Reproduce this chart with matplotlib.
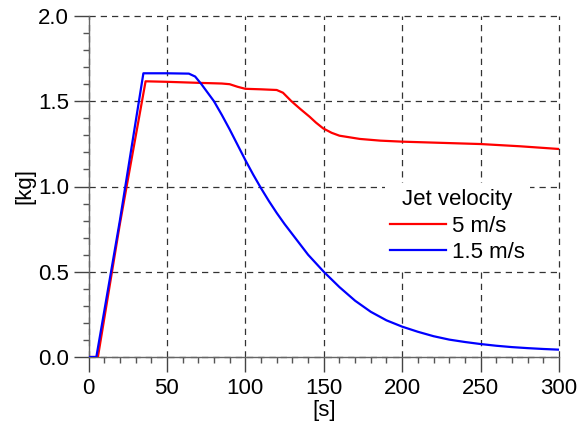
import numpy as np
import matplotlib.pyplot as plt
from matplotlib.ticker import MultipleLocator

plt.rcParams['font.family'] = ['Liberation Sans', 'DejaVu Sans']

# 5 m/s jet
t_fast = [0, 6, 20, 36.4, 50, 70, 85, 90, 95, 100, 110, 120, 124, 129.4, 135, 141, 145, 149.6, 155, 160, 173, 186, 200, 225, 250, 275, 300]
m_fast = [0, 0, 0.78, 1.617, 1.614, 1.608, 1.604, 1.600, 1.585, 1.573, 1.570, 1.566, 1.550, 1.50, 1.455, 1.409, 1.375, 1.341, 1.315, 1.298, 1.279, 1.269, 1.263, 1.256, 1.249, 1.236, 1.220]

# 1.5 m/s jet
t_slow = [0, 5, 20, 35, 50, 64, 68, 72, 76, 80, 85, 90, 95, 100, 105, 110, 115, 120, 125, 130, 140, 150, 160, 170, 180, 190, 200, 210, 220, 230, 240, 250, 260, 270, 280, 290, 300]
m_slow = [0, 0, 0.80, 1.664, 1.664, 1.662, 1.645, 1.60, 1.55, 1.50, 1.42, 1.335, 1.245, 1.155, 1.07, 0.99, 0.915, 0.845, 0.78, 0.72, 0.60, 0.50, 0.41, 0.33, 0.265, 0.215, 0.178, 0.148, 0.122, 0.102, 0.088, 0.076, 0.066, 0.058, 0.052, 0.047, 0.043]

fig = plt.figure(figsize=(5.86, 4.25), dpi=100)
ax = fig.add_axes([88.5 / 586, 1 - 357 / 425, (559 - 88.5) / 586, (357 - 16) / 425])

ax.plot(t_fast, m_fast, color='#ff0000', lw=1.6, label='5 m/s', zorder=3)
ax.plot(t_slow, m_slow, color='#0000ff', lw=1.6, label='1.5 m/s', zorder=3)

ax.set_xlim(0, 300)
ax.set_ylim(0, 2.0)
ax.xaxis.set_major_locator(MultipleLocator(50))
ax.xaxis.set_minor_locator(MultipleLocator(10))
ax.yaxis.set_major_locator(MultipleLocator(0.5))
ax.yaxis.set_minor_locator(MultipleLocator(0.1))
ax.yaxis.set_major_formatter(plt.FormatStrFormatter('%.1f'))

for s in ['top', 'right']:
    ax.spines[s].set_visible(False)
for s in ['left', 'bottom']:
    ax.spines[s].set_color('#666666')
    ax.spines[s].set_linewidth(1.0)

fs = 16
ax.tick_params(which='major', direction='out', length=11, width=1, color='#444444', labelsize=fs)
ax.tick_params(axis='x', which='major', pad=4)
ax.tick_params(axis='y', which='major', pad=3)
ax.tick_params(which='minor', direction='out', length=4, width=1, color='#555555')
ax.grid(True, which='major', color='#333333', linestyle=(0, (5, 4)), linewidth=0.9)
for gl in ax.get_xgridlines() + ax.get_ygridlines():
    gl.set_clip_on(False)

ax.set_xlabel('[s]', fontsize=fs, labelpad=1)
ax.set_ylabel('[kg]', fontsize=fs, labelpad=2)

leg = ax.legend(title='Jet velocity', loc='upper left', bbox_to_anchor=(0.63, 0.509),
                frameon=True, fontsize=fs, title_fontsize=fs, handlelength=2.5,
                handletextpad=0.25, borderpad=0.25, labelspacing=0.25, framealpha=1,
                borderaxespad=0)
leg.get_frame().set_edgecolor('none')
leg.get_frame().set_boxstyle('square', pad=0)

fig.savefig('out.png', dpi=100)
